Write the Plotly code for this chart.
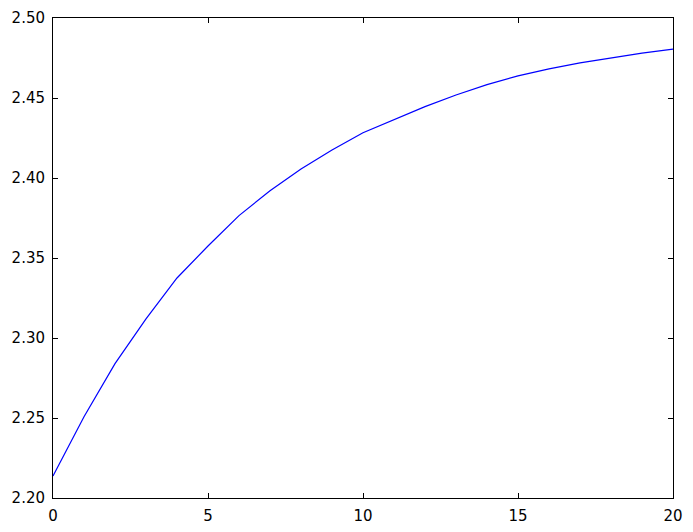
import plotly.graph_objects as go

x_values = list(range(21))
y_values = [2.2138, 2.2508, 2.2840, 2.3120, 2.3375, 2.3575, 2.3765, 2.3920,
            2.4056, 2.4175, 2.4283, 2.4367, 2.4446, 2.4519, 2.4584, 2.4638,
            2.4682, 2.4720, 2.4752, 2.4780, 2.4806]
x_ticks = [0, 5, 10, 15, 20]
y_ticks = [2.20, 2.25, 2.30, 2.35, 2.40, 2.45, 2.50]

fig = go.Figure()
fig.add_trace(go.Scatter(x=x_values, y=y_values, mode="lines",
                         line=dict(color="#0000ff", width=1.2), showlegend=False))

axis_common = dict(showgrid=False, zeroline=False, showline=True, linecolor="black",
                   linewidth=1, mirror="allticks", ticks="inside", ticklen=5,
                   tickcolor="black", tickwidth=1, automargin=False,
                   tickfont=dict(family="DejaVu Sans", size=15, color="black"))

fig.update_xaxes(range=[0, 20], tickvals=x_ticks, ticktext=[str(v) for v in x_ticks],
                 ticklabelstandoff=4, **axis_common)
fig.update_yaxes(range=[2.20, 2.50], tickvals=y_ticks,
                 ticktext=[f"{v:.2f}" for v in y_ticks], ticklabelstandoff=4, **axis_common)

# page body has an 8px margin, so the figure is offset by 8px
fig.update_layout(width=685, height=524, margin=dict(l=45, r=20, t=10, b=34, pad=0),
                  autosize=False, plot_bgcolor="white", paper_bgcolor="white")

fig.write_html("out.html", config={"responsive": False})
